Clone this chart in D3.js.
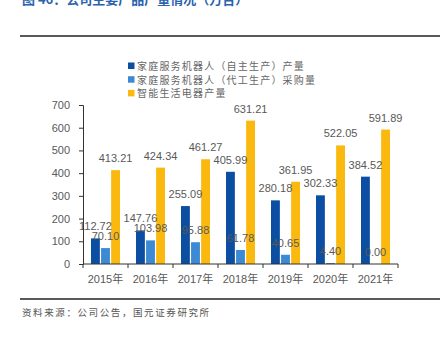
<!DOCTYPE html>
<html>
<head>
<meta charset="utf-8">
<script src="https://cdn.jsdelivr.net/npm/d3@7/dist/d3.min.js"></script>
<style>
  html, body { margin: 0; padding: 0; background: #fff; }
  svg { display: block; }
</style>
</head>
<body>
<svg id="chart" width="440" height="337"></svg>
<script>
// Production volumes by year (万台)
const years = ["2015年", "2016年", "2017年", "2018年", "2019年", "2020年", "2021年"];
const seriesNames = [
  "家庭服务机器人（自主生产）产量",
  "家庭服务机器人（代工生产）采购量",
  "智能生活电器产量"
];
const selfMade   = [112.72, 147.76, 255.09, 405.99, 280.18, 302.33, 384.52];
const outsourced = [70.10, 103.98, 95.88, 61.78, 40.65, 4.40, 0.00];
const appliances = [413.21, 424.34, 461.27, 631.21, 361.95, 522.05, 591.89];
const yTicks = [0, 100, 200, 300, 400, 500, 600, 700];

const seriesValues = [selfMade, outsourced, appliances];
const colors = ["#0b4ea2", "#3c8ad4", "#fbb910"];

const svg = d3.select("#chart");
const latin = "'Liberation Sans', Arial, sans-serif";
const cjk = "'Noto Sans CJK SC', sans-serif";

// Title (top clipped by the page edge)
svg.append("text")
  .attr("x", 22).attr("y", 3.5)
  .attr("fill", "#2a62ad")
  .attr("font-family", cjk)
  .attr("font-size", 13)
  .attr("font-weight", "bold")
  .text("图 46：公司主要产品产量情况（万台）");

// Header and footer rules
svg.append("line").attr("x1", 20).attr("x2", 440).attr("y1", 36).attr("y2", 36)
  .attr("stroke", "#222").attr("stroke-width", 1.6);
svg.append("line").attr("x1", 20).attr("x2", 440).attr("y1", 299).attr("y2", 299)
  .attr("stroke", "#222").attr("stroke-width", 1.6);

// Source note
svg.append("text")
  .attr("x", 22).attr("y", 316)
  .attr("fill", "#555")
  .attr("font-family", cjk)
  .attr("font-size", 9.5)
  .attr("letter-spacing", 1.6)
  .text("资料来源：公司公告，国元证券研究所");

// Scales
const x = d3.scaleBand().domain(years).range([83, 398]).paddingInner(0).paddingOuter(0);
const inner = d3.scaleBand().domain(d3.range(3)).range([-14.5, 14.5]).paddingInner(0.12);
const y = d3.scaleLinear().domain([0, 700]).range([264, 105]);

// Bars
const groups = svg.append("g").selectAll("g")
  .data(years)
  .join("g")
  .attr("transform", d => `translate(${x(d) + x.bandwidth() / 2},0)`);

groups.selectAll("rect")
  .data((d, i) => seriesValues.map((s, k) => ({ k, v: s[i] })))
  .join("rect")
  .attr("x", d => inner(d.k))
  .attr("width", inner.bandwidth())
  .attr("y", d => y(d.v))
  .attr("height", d => y(0) - y(d.v))
  .attr("fill", d => colors[d.k]);

// Y axis
const yAxis = svg.append("g")
  .attr("transform", "translate(83,0)")
  .call(d3.axisLeft(y).tickValues(yTicks).tickSize(4).tickPadding(9).tickFormat(d3.format("d")));
yAxis.select(".domain").attr("stroke", "#333");
yAxis.selectAll(".tick line").attr("stroke", "#333");
yAxis.selectAll(".tick text").attr("fill", "#595959").attr("font-family", latin).attr("font-size", 11);

// X axis with ticks at category boundaries
const xAxis = svg.append("g").attr("transform", "translate(0,264)");
xAxis.append("line").attr("x1", 83).attr("x2", 398).attr("stroke", "#333");
const bounds = years.map(d => x(d)).concat([x(years[years.length - 1]) + x.bandwidth()]);
xAxis.selectAll("line.tk").data(bounds).join("line").attr("class", "tk")
  .attr("x1", d => d).attr("x2", d => d).attr("y1", 0).attr("y2", 4)
  .attr("stroke", "#333");
xAxis.selectAll("text").data(years).join("text")
  .attr("x", d => x(d) + x.bandwidth() / 2)
  .attr("y", 19)
  .attr("text-anchor", "middle")
  .attr("fill", "#595959")
  .attr("font-size", 11)
  .each(function (d) {
    const t = d3.select(this);
    t.append("tspan").attr("font-family", latin).text(d.replace("年", ""));
    t.append("tspan").attr("font-family", cjk).text("年");
  });

// Value labels
groups.selectAll("text.val")
  .data((d, i) => seriesValues.map((s, k) => ({ k, v: s[i] })))
  .join("text").attr("class", "val")
  .attr("x", d => inner(d.k) + inner.bandwidth() / 2)
  .attr("y", d => y(d.v) - 8)
  .attr("text-anchor", "middle")
  .attr("fill", "#595959")
  .attr("font-family", latin)
  .attr("font-size", 11)
  .text(d => d3.format(".2f")(d.v));

// Legend
const legend = svg.append("g").attr("transform", "translate(128,0)");
const legendRows = legend.selectAll("g").data(seriesNames).join("g")
  .attr("transform", (d, i) => `translate(0,${66 + i * 13.7})`);
legendRows.append("rect").attr("x", 0).attr("y", -3.5).attr("width", 6.5).attr("height", 6.5)
  .attr("fill", (d, i) => colors[i]);
legendRows.append("text").attr("x", 9).attr("y", 3.8)
  .attr("fill", "#666")
  .attr("font-family", cjk)
  .attr("font-size", 10)
  .attr("letter-spacing", 1.2)
  .text(d => d);
</script>
</body>
</html>
